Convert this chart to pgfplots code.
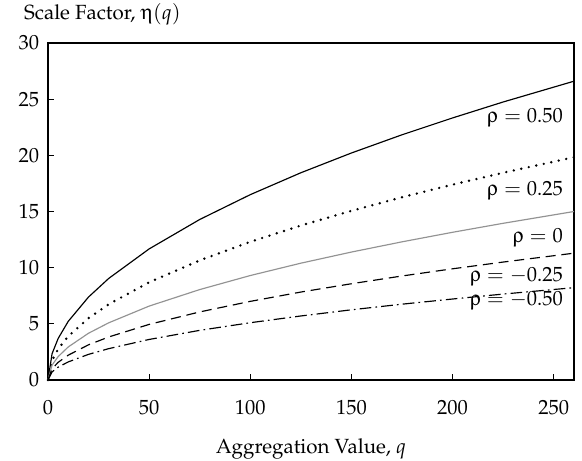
\documentclass[border=0pt]{standalone}
\usepackage[T1]{fontenc}
\usepackage{mathpazo}
\usepackage[Symbol]{upgreek}
\usepackage{pgfplots}
\pgfplotsset{compat=1.18}

\begin{document}
\fontsize{12.3}{14.5}\selectfont
\begin{tikzpicture}
\useasboundingbox (-28.8pt,-48.6pt) rectangle (320.4pt,228pt);
\begin{axis}[%
width=315.6pt,
height=202.2pt,
at={(0pt,0pt)},
anchor=south west,
scale only axis,
font=\fontsize{12.3}{14.5}\selectfont,
xmin=0, xmax=260,
ymin=0, ymax=30,
xtick={0,50,100,150,200,250},
ytick={0,5,10,15,20,25,30},
tick align=inside,
xtick pos=bottom,
ytick pos=left,
major tick length=3.6pt,
axis line style={line width=0.7pt},
every tick/.style={line width=0.6pt, black},
xticklabel style={yshift=-8pt},
yticklabel style={xshift=-1pt},
clip=false,
]
% rho = 0.50
\addplot[black, line width=0.7pt] coordinates {
(0,0) (2,2.33) (5,3.69) (10,5.22) (20,7.38) (30,9.04) (50,11.67) (75,14.29)
(100,16.5) (125,18.45) (150,20.21) (175,21.83) (200,23.33) (225,24.75) (260,26.6)};
% rho = 0.25
\addplot[black, line width=1.6pt, line cap=round, dash pattern=on 0pt off 4.6pt] coordinates {
(0,0) (2,1.74) (5,2.75) (10,3.89) (20,5.50) (30,6.74) (50,8.70) (75,10.65)
(100,12.3) (125,13.75) (150,15.06) (175,16.27) (200,17.39) (225,18.45) (260,19.83)};
% rho = 0
\addplot[gray!85, line width=0.7pt] coordinates {
(0,0) (2,1.32) (5,2.08) (10,2.94) (20,4.16) (30,5.09) (50,6.58) (75,8.05)
(100,9.3) (125,10.40) (150,11.39) (175,12.30) (200,13.15) (225,13.95) (260,15.0)};
% rho = -0.25
\addplot[black, line width=0.7pt, dash pattern=on 6pt off 3.5pt] coordinates {
(0,0) (2,0.99) (5,1.57) (10,2.21) (20,3.13) (30,3.83) (50,4.95) (75,6.06)
(100,7.0) (125,7.83) (150,8.57) (175,9.26) (200,9.90) (225,10.5) (260,11.29)};
% rho = -0.50
\addplot[black, line width=0.7pt, dash pattern=on 7pt off 2.5pt on 1pt off 2.5pt] coordinates {
(0,0) (2,0.72) (5,1.14) (10,1.61) (20,2.28) (30,2.79) (50,3.61) (75,4.42)
(100,5.1) (125,5.70) (150,6.25) (175,6.75) (200,7.21) (225,7.65) (260,8.22)};

\node[anchor=base east] at (axis cs:258,22.9) {$\uprho = 0.50$};
\node[anchor=base east] at (axis cs:258,16.4) {$\uprho = 0.25$};
\node[anchor=base east] at (axis cs:258,12.2) {$\uprho = 0$};
\node[anchor=base east] at (axis cs:258,8.8) {$\uprho = -0.25$};
\node[anchor=base east] at (axis cs:258,6.6) {$\uprho = -0.50$};
\end{axis}
% axis titles, in picture coordinates (axis origin at 0,0)
\node[anchor=base] at (157.8pt,-44pt) {Aggregation Value, $q$};
\node[anchor=base west] at (-18.6pt,216pt) {Scale Factor, $\upeta(q)$};
\end{tikzpicture}
\end{document}
